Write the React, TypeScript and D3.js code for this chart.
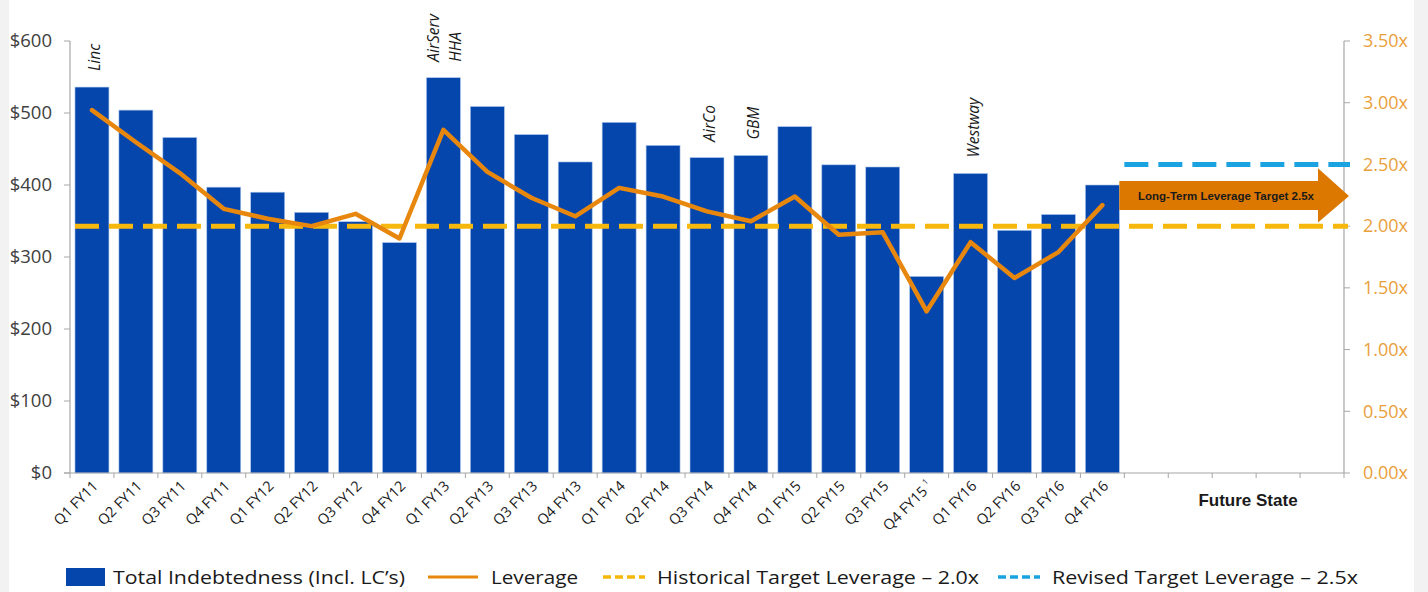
import React from "react";
import * as d3 from "d3";

const quarters = [
  "Q1 FY11", "Q2 FY11", "Q3 FY11", "Q4 FY11",
  "Q1 FY12", "Q2 FY12", "Q3 FY12", "Q4 FY12",
  "Q1 FY13", "Q2 FY13", "Q3 FY13", "Q4 FY13",
  "Q1 FY14", "Q2 FY14", "Q3 FY14", "Q4 FY14",
  "Q1 FY15", "Q2 FY15", "Q3 FY15", "Q4 FY15",
  "Q1 FY16", "Q2 FY16", "Q3 FY16", "Q4 FY16",
];
const futureSlots = ["F1", "F2", "F3", "F4", "F5"];

// Total indebtedness ($M)
const indebtedness = [
  536, 504, 466, 397, 390, 362, 349, 320,
  549, 509, 470, 432, 487, 455, 438, 441,
  481, 428, 425, 273, 416, 337, 359, 400,
];
// Leverage (x)
const leverage = [
  2.94, 2.68, 2.43, 2.14, 2.06, 2.0, 2.1, 1.9,
  2.78, 2.44, 2.23, 2.08, 2.31, 2.24, 2.12, 2.04,
  2.24, 1.93, 1.95, 1.31, 1.87, 1.58, 1.79, 2.17,
];

const historicalTarget = 2.0;
const revisedTarget = 2.5;

const leftTicks = [0, 100, 200, 300, 400, 500, 600];
const rightTicks = [0, 0.5, 1, 1.5, 2, 2.5, 3, 3.5];

const annotations = [
  { cat: "Q1 FY11", lines: ["Linc"] },
  { cat: "Q1 FY13", lines: ["AirServ", "HHA"] },
  { cat: "Q3 FY14", lines: ["AirCo"] },
  { cat: "Q4 FY14", lines: ["GBM"] },
  { cat: "Q1 FY16", lines: ["Westway"] },
];

const legendItems = [
  { label: "Total Indebtedness (Incl. LC\u2019s)", kind: "bar", x: 66, w: 292 },
  { label: "Leverage", kind: "line", x: 428, w: 87 },
  { label: "Historical Target Leverage \u2013 2.0x", kind: "gold", x: 603, w: 322 },
  { label: "Revised Target Leverage \u2013 2.5x", kind: "blue", x: 998, w: 306 },
];

const W = 1428;
const H = 592;
const left = 70;
const right = 1344;
const top = 41;
const bottom = 473;

const BAR = "#0546ad";
const LINE = "#e8870e";
const GOLD = "#f6b80c";
const BLUE = "#1ba3e1";
const ARROW = "#dc7800";
const FONT = "'Open Sans', 'DejaVu Sans', sans-serif";

export default function App() {
  const x = d3
    .scaleBand<string>()
    .domain([...quarters, ...futureSlots])
    .range([left, right])
    .paddingInner(0.227)
    .paddingOuter(0.1135);
  const step = x.step();
  const bw = x.bandwidth();
  const yL = d3.scaleLinear().domain([0, 600]).range([bottom, top]);
  const yR = d3.scaleLinear().domain([0, 3.5]).range([bottom, top]);
  const cx = (c: string) => (x(c) as number) + bw / 2;

  const lineGen = d3
    .line<number>()
    .x((_, i) => cx(quarters[i]))
    .y((d) => yR(d));

  const boundaries = d3.range(quarters.length + futureSlots.length + 1).map((i) => left + i * step);

  const lastEnd = (x(quarters[quarters.length - 1]) as number) + bw;
  const headStart = right - 26;
  const tip = right + 5;
  const yMid = yR(2.245);
  const bodyT = yR(2.365);
  const bodyB = yR(2.13);
  const headT = yR(2.47);
  const headB = yR(2.03);
  const arrowPath = d3.path();
  arrowPath.moveTo(lastEnd, bodyT);
  arrowPath.lineTo(headStart, bodyT);
  arrowPath.lineTo(headStart, headT);
  arrowPath.lineTo(tip, yMid);
  arrowPath.lineTo(headStart, headB);
  arrowPath.lineTo(headStart, bodyB);
  arrowPath.lineTo(lastEnd, bodyB);
  arrowPath.closePath();

  return (
    <svg width={W} height={H} style={{ position: "absolute", left: 0, top: 0 }} fontFamily={FONT}>
      <rect width={W} height={H} fill="#f2f2f2" />
      <rect x={9} y={0} width={1405} height={H} fill="#ffffff" />

      {/* bars */}
      {quarters.map((q, i) => (
        <rect
          key={q}
          x={x(q)}
          y={yL(indebtedness[i])}
          width={bw}
          height={bottom - yL(indebtedness[i])}
          fill={BAR}
          stroke="#a9c4ec"
          strokeWidth={0.6}
        />
      ))}

      {/* axes */}
      <line x1={left} x2={left} y1={top} y2={bottom} stroke="#a6a6a6" strokeWidth={1.2} />
      <line x1={right} x2={right} y1={top} y2={bottom} stroke="#a6a6a6" strokeWidth={1.2} />
      <line x1={left - 6} x2={right} y1={bottom} y2={bottom} stroke="#a6a6a6" strokeWidth={1.2} />
      {leftTicks.map((t) => (
        <g key={t}>
          <line x1={left - 6} x2={left} y1={yL(t)} y2={yL(t)} stroke="#a6a6a6" />
          <text x={52} y={yL(t)} dy="0.35em" textAnchor="end" fontSize={18.5} fill="#404040">
            {"$" + t}
          </text>
        </g>
      ))}
      {rightTicks.map((t) => (
        <g key={t}>
          <line x1={right} x2={right + 6} y1={yR(t)} y2={yR(t)} stroke="#a6a6a6" />
          <text x={1363} y={yR(t)} dy="0.35em" textAnchor="start" fontSize={18} fill="#e9a03c">
            {d3.format(".2f")(t) + "x"}
          </text>
        </g>
      ))}
      {boundaries.map((b, i) => (
        <line key={i} x1={b} x2={b} y1={bottom} y2={bottom + 5} stroke="#a6a6a6" />
      ))}

      {/* target lines */}
      <line
        x1={(x(quarters[0]) as number)}
        x2={right + 4}
        y1={yR(historicalTarget)}
        y2={yR(historicalTarget)}
        stroke={GOLD}
        strokeWidth={5}
        strokeDasharray="24 10"
      />
      <line
        x1={lastEnd + 5}
        x2={right + 6}
        y1={yR(revisedTarget)}
        y2={yR(revisedTarget)}
        stroke={BLUE}
        strokeWidth={5}
        strokeDasharray="24 10"
      />

      {/* leverage line */}
      <path d={lineGen(leverage) || ""} fill="none" stroke={LINE} strokeWidth={4.5} strokeLinejoin="round" strokeLinecap="round" />

      {/* arrow */}
      <path d={arrowPath.toString()} fill={ARROW} />
      <text
        x={1226}
        y={yMid}
        dy="0.35em"
        textAnchor="middle"
        fontSize={11.5}
        fontWeight="bold"
        fontFamily="'Liberation Sans', Arial, sans-serif"
        fill="#1a1a1a"
      >
        Long-Term Leverage Target 2.5x
      </text>

      {/* annotations */}
      {annotations.map((a) => {
        const i = quarters.indexOf(a.cat);
        const yb = yL(indebtedness[i]) - 16;
        const n = a.lines.length;
        return a.lines.map((ln, j) => {
          const bx = cx(a.cat) + 8 - (n - 1) * 12 + j * 22;
          return (
            <text
              key={a.cat + j}
              transform={`translate(${bx},${yb}) rotate(-90)`}
              fontSize={15.5}
              fontStyle="italic"
              fill="#1a1a1a"
            >
              {ln}
            </text>
          );
        });
      })}

      {/* x labels */}
      {quarters.map((q) => (
        <text
          key={q}
          transform={`translate(${cx(q) + 7},${bottom + 14}) rotate(-45)`}
          textAnchor="end"
          fontSize={14.5}
          fill="#1a1a1a"
        >
          {q}
          {q === "Q4 FY15" ? (
            <tspan fontSize={8} dy={-7} dx={3}>
              1
            </tspan>
          ) : null}
        </text>
      ))}
      <text
        x={1248}
        y={506}
        textAnchor="middle"
        fontSize={17}
        fontWeight="bold"
        fontFamily="'Liberation Sans', Arial, sans-serif"
        fill="#1a1a1a"
      >
        Future State
      </text>

      {/* legend */}
      {legendItems.map((it) => {
        const ly = 577;
        let sw: React.ReactNode = null;
        let tx = it.x;
        if (it.kind === "bar") {
          sw = <rect x={it.x} y={ly - 9} width={39} height={18} fill={BAR} />;
          tx = it.x + 47;
        } else if (it.kind === "line") {
          sw = <line x1={it.x} x2={it.x + 50} y1={ly} y2={ly} stroke={LINE} strokeWidth={3} />;
          tx = it.x + 63;
        } else {
          sw = (
            <line
              x1={it.x}
              x2={it.x + 42}
              y1={ly}
              y2={ly}
              stroke={it.kind === "gold" ? GOLD : BLUE}
              strokeWidth={3.5}
              strokeDasharray="8 4"
            />
          );
          tx = it.x + 54;
        }
        return (
          <g key={it.label}>
            {sw}
            <text
              x={tx}
              y={ly}
              dy="0.35em"
              fontSize={19}
              textLength={it.w}
              lengthAdjust="spacingAndGlyphs"
              fill="#1a1a1a"
            >
              {it.label}
            </text>
          </g>
        );
      })}
    </svg>
  );
}
